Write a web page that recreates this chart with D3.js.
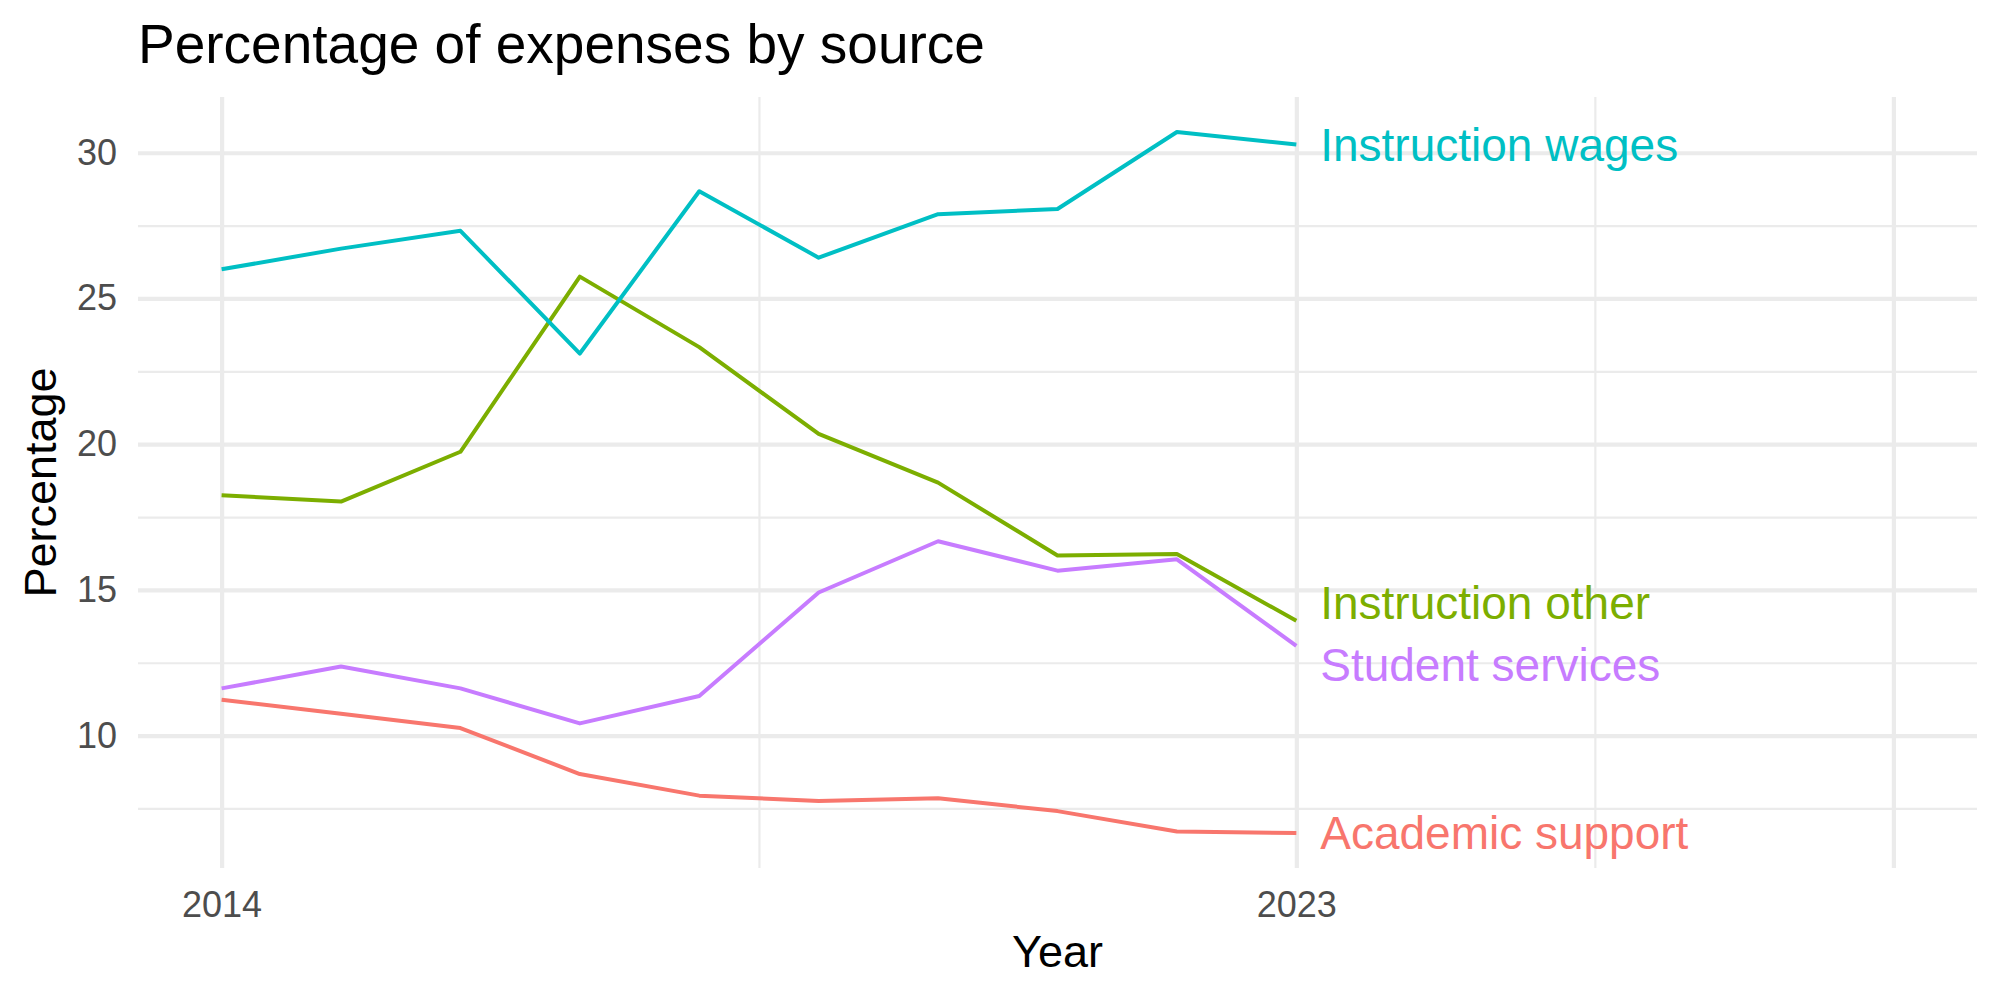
<!DOCTYPE html>
<html>
<head>
<meta charset="utf-8">
<script src="https://cdn.jsdelivr.net/npm/d3@7"></script>
<style>
  html, body { margin: 0; padding: 0; background: #ffffff; }
  svg { display: block; font-family: "Liberation Sans", Arial, Helvetica, sans-serif; }
</style>
</head>
<body>
<svg id="chart" width="2000" height="1000"></svg>
<script>
// ---- data ----
const years = [2014, 2015, 2016, 2017, 2018, 2019, 2020, 2021, 2022, 2023];
const seriesNames = ["Academic support", "Instruction other", "Instruction wages", "Student services"];
const academicSupport  = [11.23, 10.75, 10.26, 8.68, 7.94, 7.76, 7.85, 7.41, 6.71, 6.66];
const instructionOther = [18.25, 18.03, 19.74, 25.75, 23.33, 20.35, 18.68, 16.18, 16.23, 13.94];
const instructionWages = [26.00, 26.71, 27.32, 23.11, 28.68, 26.40, 27.89, 28.07, 30.71, 30.28];
const studentServices  = [11.62, 12.37, 11.62, 10.42, 11.36, 14.91, 16.67, 15.66, 16.05, 13.08];
const seriesValues = [academicSupport, instructionOther, instructionWages, studentServices];
const xLimits = [2014, 2028];
const xBreaks = [2014, 2023, 2028];
const xBreakLabels = ["2014", "2023", ""];
const xMinorBreaks = [2018.5, 2025.5];
const yBreaks = [10, 15, 20, 25, 30];
const yMinorBreaks = [7.5, 12.5, 17.5, 22.5, 27.5];
const titleText = "Percentage of expenses by source";
const xTitle = "Year";
const yTitle = "Percentage";

// ---- styles ----
const colors = ["#F8766D", "#7CAE00", "#00BFC4", "#C77CFF"];
const panel = { left: 138, right: 1977, top: 97, bottom: 868 };
const pw = panel.right - panel.left, ph = panel.bottom - panel.top;

const svg = d3.select("#chart");

// scales with 5% expansion (ggplot default)
const xr = xLimits[1] - xLimits[0];
const x = d3.scaleLinear()
  .domain([xLimits[0] - 0.05 * xr, xLimits[1] + 0.05 * xr])
  .range([panel.left, panel.right]);
const allVals = seriesValues.flat();
const yMin = d3.min(allVals), yMax = d3.max(allVals), yr = yMax - yMin;
const y = d3.scaleLinear()
  .domain([yMin - 0.05 * yr, yMax + 0.05 * yr])
  .range([panel.bottom, panel.top]);

// minor grids
svg.append("g").attr("transform", `translate(${panel.left},0)`)
  .call(d3.axisLeft(y).tickValues(yMinorBreaks).tickSize(-pw).tickFormat(""))
  .call(g => g.select(".domain").remove())
  .call(g => g.selectAll("line").attr("stroke", "#EBEBEB").attr("stroke-width", 2.2));
svg.append("g").attr("transform", `translate(0,${panel.bottom})`)
  .call(d3.axisBottom(x).tickValues(xMinorBreaks).tickSize(-ph).tickFormat(""))
  .call(g => g.select(".domain").remove())
  .call(g => g.selectAll("line").attr("stroke", "#EBEBEB").attr("stroke-width", 2.2));

// major grids + labels
svg.append("g").attr("transform", `translate(${panel.left},0)`)
  .call(d3.axisLeft(y).tickValues(yBreaks).tickSize(-pw).tickPadding(21).tickFormat(d3.format("d")))
  .call(g => g.select(".domain").remove())
  .call(g => g.selectAll("line").attr("stroke", "#EBEBEB").attr("stroke-width", 4.2))
  .call(g => g.selectAll("text").attr("fill", "#4D4D4D").attr("font-size", 36)
      .attr("font-family", "Liberation Sans, Arial, sans-serif"));
svg.append("g").attr("transform", `translate(0,${panel.bottom})`)
  .call(d3.axisBottom(x).tickValues(xBreaks).tickSize(-ph).tickPadding(23)
      .tickFormat((d, i) => xBreakLabels[i]))
  .call(g => g.select(".domain").remove())
  .call(g => g.selectAll("line").attr("stroke", "#EBEBEB").attr("stroke-width", 4.2))
  .call(g => g.selectAll("text").attr("fill", "#4D4D4D").attr("font-size", 36)
      .attr("font-family", "Liberation Sans, Arial, sans-serif"));

// lines
const line = d3.line().x((d, i) => x(years[i])).y(d => y(d));
seriesValues.forEach((vals, k) => {
  svg.append("path").datum(vals)
    .attr("d", line)
    .attr("fill", "none")
    .attr("stroke", colors[k])
    .attr("stroke-width", 4)
    .attr("stroke-linejoin", "round")
    .attr("stroke-linecap", "butt");
});

// end labels with simple repel
const fontSize = 46, minGap = 62;
const labels = seriesNames.map((n, k) => ({
  name: n, color: colors[k],
  x: x(years[years.length - 1] + 0.2),
  y0: y(seriesValues[k][seriesValues[k].length - 1])
})).map(d => ({ ...d, y: d.y0 }));
labels.sort((a, b) => a.y - b.y);
for (let iter = 0; iter < 50; iter++) {
  for (let i = 0; i < labels.length - 1; i++) {
    const a = labels[i], b = labels[i + 1];
    const gap = b.y - a.y;
    if (gap < minGap) {
      const push = (minGap - gap) / 2;
      a.y -= push; b.y += push;
    }
  }
}
svg.append("g").selectAll("text").data(labels).join("text")
  .attr("x", d => d.x)
  .attr("y", d => d.y + fontSize * 0.358)
  .attr("fill", d => d.color)
  .attr("font-size", fontSize)
  .text(d => d.name);

// titles
svg.append("text").attr("x", panel.left).attr("y", 63)
  .attr("font-size", 55).attr("fill", "#000").text(titleText);
svg.append("text").attr("x", (panel.left + panel.right) / 2).attr("y", 967)
  .attr("text-anchor", "middle").attr("font-size", 45).attr("fill", "#000").text(xTitle);
svg.append("text")
  .attr("transform", `translate(56,${(panel.top + panel.bottom) / 2}) rotate(-90)`)
  .attr("text-anchor", "middle").attr("font-size", 45).attr("fill", "#000").text(yTitle);
</script>
</body>
</html>
